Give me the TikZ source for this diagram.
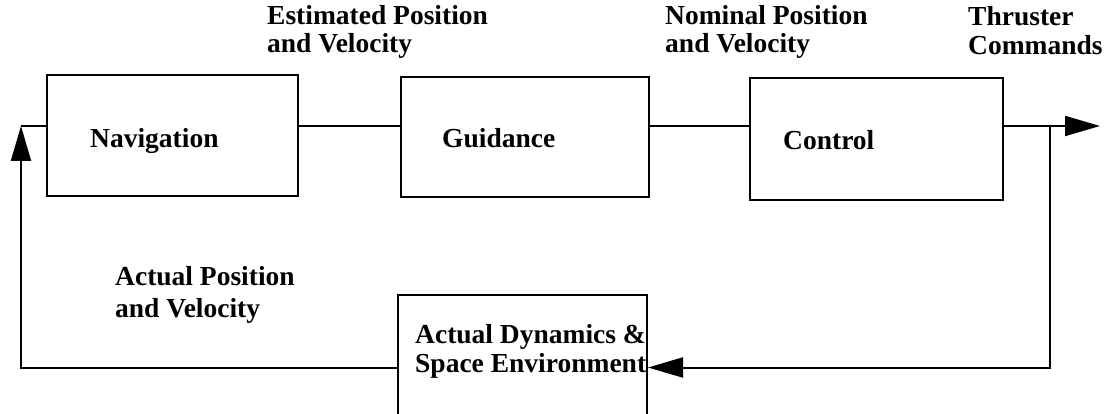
\documentclass[tikz,border=0pt]{standalone}
\usepackage{fontspec}
\setmainfont{Liberation Serif}
\usetikzlibrary{arrows.meta}
\begin{document}
\begin{tikzpicture}[x=1pt,y=-1pt,
  blk/.style={draw, line width=2pt, inner sep=0pt},
  lbl/.style={anchor=base west, inner sep=0pt, align=left,
              font=\fontsize{27.5}{28}\selectfont\bfseries},
  wire/.style={line width=2pt},
  arr/.style={wire, -{Triangle[length=35pt,width=20pt]}}]
\clip (0,0) rectangle (1107,414);
\fill[white] (0,0) rectangle (1107,414);

% blocks
\node[blk, minimum width=251pt, minimum height=121pt] (nav)  at (172.5,135.5) {};
\node[blk, minimum width=248pt, minimum height=120pt] (guid) at (525,137) {};
\node[blk, minimum width=253pt, minimum height=122pt] (ctrl) at (876.5,139) {};
\node[blk, minimum width=249pt, minimum height=145pt] (dyn)  at (522.5,367.5) {};

% block texts (anchored on the baseline of the last line)
\node[lbl] (navt)  at (90,148)  {Navigation};
\node[lbl] (guidt) at (442,148) {Guidance};
\node[lbl] (ctrlt) at (783,150) {Control};
\node[lbl, font=\fontsize{27.5}{29}\selectfont\bfseries] (dynt) at (415,372)
  {Actual Dynamics \&\\Space Environment};

% signal labels
\node[lbl] (estl) at (267,53)  {Estimated Position\\and Velocity};
\node[lbl] (noml) at (665,53)  {Nominal Position\\and Velocity};
\node[lbl, font=\fontsize{27.5}{29}\selectfont\bfseries] (thrl) at (968,55) {Thruster\\Commands};
\node[lbl, font=\fontsize{27.5}{32}\selectfont\bfseries] (actl) at (115,317) {Actual Position\\and Velocity};

% helper points
\coordinate (row)    at (0,126);
\coordinate (out)    at (1100,126);
\coordinate (branch) at (1050,126);
\coordinate (corner) at (21,126);

% forward path
\draw[wire] (nav.east |- row) -- (guid.west |- row);
\draw[wire] (guid.east |- row) -- (ctrl.west |- row);
\draw[arr]  (ctrl.east |- row) -- (out);

% feedback loop
\draw[arr]  (branch) |- (dyn.east);
\draw[arr]  (dyn.west) -| (corner);
\draw[wire] (corner) -- (nav.west |- row);
\end{tikzpicture}
\end{document}
